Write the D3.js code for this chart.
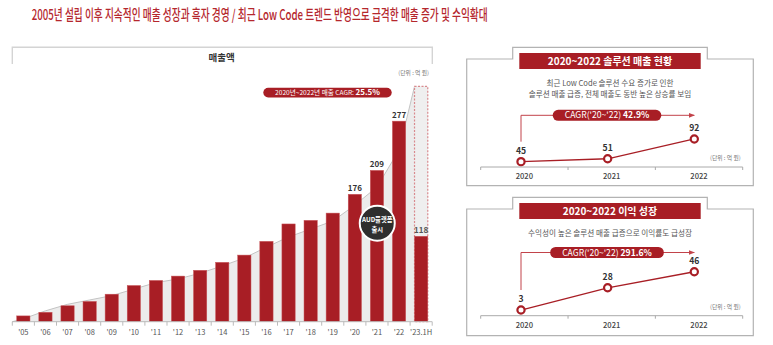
<!DOCTYPE html>
<html><head><meta charset="utf-8">
<script src="https://cdn.jsdelivr.net/npm/d3@7"></script>
<style>
html,body{margin:0;padding:0;background:#fff;}
svg{display:block;font-family:"Noto Sans CJK KR","Noto Sans",sans-serif;}
</style></head>
<body>
<svg id="c" width="773" height="345"></svg>
<script>
// ---------- data ----------
const titleText = "2005년 설립 이후 지속적인 매출 성장과 흑자 경영 / 최근 Low Code 트렌드 반영으로 급격한 매출 증가 및 수익확대";
const categories = ["'05","'06","'07","'08","'09","'10","'11","'12","'13","'14","'15","'16","'17","'18","'19","'20","'21","'22","'23.1H"];
const salesValues = [8,13,22,28,38,50,57,63,71,82,92,111,135,140,150,176,209,277,118];
const trendValues = [4,15,24,30,36,45,54,59,67,77,88,103,117,128,139,161,186,237,325];
const labeledCategories = ["'20","'21","'22","'23.1H"];
const projected2023 = 325;
const years = ["2020","2021","2022"];
const solutionSales = [45,51,92];
const profitValues = [3,28,46];

const RED = "#a81e25";
const svg = d3.select("#c");
svg.append("rect").attr("width",773).attr("height",345).attr("fill","#fff");

// title
svg.append("text").attr("x",259.7).attr("y",20).attr("text-anchor","middle")
  .attr("font-size",14.5).attr("font-weight",500).attr("fill","#b5272d")
  .attr("textLength",456).attr("lengthAdjust","spacingAndGlyphs").text(titleText);

// ---------- left chart ----------
const x = d3.scaleBand().domain(categories).range([12.3,432.2]).paddingInner(0.4).paddingOuter(0.2);
const y = d3.scaleLinear().domain([0,325]).range([321.7,86.4]);
const bw = x.bandwidth();
const gap = x.step()*0.2;

// frame
svg.append("path").attr("d",`M12.3,64V47.3H432.3V64`).attr("fill","none").attr("stroke","#d4d4d4").attr("stroke-width",1.4);
svg.append("text").attr("x",221.7).attr("y",61).attr("text-anchor","middle").attr("font-size",9.5).attr("font-weight",700).attr("fill","#333").text("매출액");
svg.append("text").attr("x",429).attr("y",74.5).attr("text-anchor","end").attr("font-size",5.8).attr("fill","#777").text("(단위 : 억 원)");

// trend area
const last = categories.length-1;
const trendPts = [[12.3,y(0)]];
categories.forEach((c,i)=>{
  if(i<last) trendPts.push([x(c)+bw/2,y(trendValues[i])]);
  else { trendPts.push([x(c),y(trendValues[i])]); trendPts.push([x(c)+bw,y(trendValues[i])]); }
});
svg.append("path").datum(trendPts)
  .attr("d",d3.area().x(d=>d[0]).y0(y(0)).y1(d=>d[1]))
  .attr("fill","#ececec");
svg.append("path").datum(trendPts.slice(0,trendPts.length-1))
  .attr("d",d3.line().x(d=>d[0]).y(d=>d[1]))
  .attr("fill","none").attr("stroke","#bdbdbd").attr("stroke-width",0.9);
// projected dashed box
svg.append("rect").attr("x",x(categories[last])).attr("y",y(projected2023))
  .attr("width",bw).attr("height",y(0)-y(projected2023))
  .attr("fill","#efefef").attr("stroke","#d98a8e").attr("stroke-width",1.2).attr("stroke-dasharray","2,1.5");

// bars
svg.append("g").selectAll("rect").data(categories).join("rect")
  .attr("x",d=>x(d)).attr("y",(d,i)=>y(salesValues[i]))
  .attr("width",bw).attr("height",(d,i)=>y(0)-y(salesValues[i]))
  .attr("fill",RED).attr("stroke","#c9565b").attr("stroke-width",0.5);

// value labels
svg.append("g").selectAll("text").data(categories.filter(c=>labeledCategories.includes(c))).join("text")
  .attr("x",d=>x(d)+bw/2).attr("y",d=>y(salesValues[categories.indexOf(d)])-3)
  .attr("text-anchor","middle").attr("font-size",8).attr("font-weight",700)
  .attr("fill",d=>d==="'23.1H"?"#555":"#333")
  .text(d=>salesValues[categories.indexOf(d)]);

// axis
const ax = svg.append("g");
ax.append("line").attr("x1",12.3).attr("x2",432.2).attr("y1",y(0)).attr("y2",y(0)).attr("stroke","#bbb").attr("stroke-width",1);
ax.selectAll("line.t").data(categories.concat(["end"])).join("line").attr("class","t")
  .attr("x1",(d,i)=> i<categories.length ? x(d)-gap : x(categories[last])+bw+gap)
  .attr("x2",(d,i)=> i<categories.length ? x(d)-gap : x(categories[last])+bw+gap)
  .attr("y1",y(0)).attr("y2",y(0)+4).attr("stroke","#bbb").attr("stroke-width",1);
ax.selectAll("text").data(categories).join("text")
  .attr("x",d=>x(d)+bw/2).attr("y",334.5).attr("text-anchor","middle")
  .attr("font-size",7.5).attr("fill","#555").text(d=>d);

// CAGR pill
const pill = svg.append("g");
pill.append("rect").attr("x",263.3).attr("y",87.7).attr("width",128.4).attr("height",9.8).attr("rx",4.9).attr("fill",RED);
const pt = pill.append("text").attr("x",327.5).attr("y",95.3).attr("text-anchor","middle").attr("fill","#fff").attr("font-size",6.6);
pt.append("tspan").text("2020년~2022년 매출  CAGR: ");
pt.append("tspan").attr("font-weight",700).attr("font-size",8).text("25.5%");

// AUD circle
const cx = x("'21")+bw/2+0.3, cy = y(136);
svg.append("circle").attr("cx",cx).attr("cy",cy).attr("r",17.5).attr("fill","#2e2e2e").attr("stroke","#fff").attr("stroke-width",2);
svg.append("text").attr("x",cx).attr("y",cy-1.5).attr("text-anchor","middle").attr("font-size",6.3).attr("font-weight",700).attr("fill","#fff").text("AUD플랫폼");
svg.append("text").attr("x",cx).attr("y",cy+8.5).attr("text-anchor","middle").attr("font-size",6.3).attr("font-weight",700).attr("fill","#fff").text("출시");

// ---------- right panels ----------
svg.append("defs").append("marker").attr("id","arr").attr("viewBox","0 0 10 10")
  .attr("refX",9).attr("refY",5).attr("markerWidth",6).attr("markerHeight",6).attr("orient","auto")
  .append("path").attr("d","M0,1L10,5L0,9Z").attr("fill","#c2434a");

function panel(top, header, subLines, cagrLabel, cagrVal, values, yDomain, yRange){
  const off = top; // panel vertical origin
  const g = svg.append("g");
  // frame with tab
  g.append("path").attr("d",`M466.7,${off+12}H512.7V${off+0.3}H707.3V${off+12}H753.3V${off+138.7}H466.7Z`)
    .attr("fill","none").attr("stroke","#b3b3b3").attr("stroke-width",1.2);
  g.append("rect").attr("x",519.3).attr("y",off+6).attr("width",181.4).attr("height",16).attr("fill",RED);
  g.append("text").attr("x",610).attr("y",off+17.6).attr("text-anchor","middle").attr("font-size",10).attr("font-weight",700).attr("fill","#fff").text(header);
  subLines.forEach((s,i)=>{
    g.append("text").attr("x",610).attr("y",off+38.5+i*11.3).attr("text-anchor","middle").attr("font-size",7.6).attr("fill","#555").text(s);
  });
  const xp = d3.scalePoint().domain(years).range([521,694.3]);
  const xb = d3.scaleBand().domain(years).range([480.7,742.7]);
  const yl = d3.scaleLinear().domain(yDomain).range(yRange);
  const pillY = subLines.length===2 ? off+68.3 : off+55.5;
  // arrow
  const firstLabelY = yl(values[0])-8;
  g.append("path").attr("d",`M${xp(years[0])},${firstLabelY-12}V${pillY}H${xp(years[2])}`)
    .attr("fill","none").attr("stroke","#c2434a").attr("stroke-width",1).attr("marker-end","url(#arr)");
  // pill
  const tt = g.append("text").attr("x",0).attr("y",pillY+3).attr("font-size",8.6).attr("fill","#fff");
  tt.append("tspan").text(cagrLabel+" ");
  tt.append("tspan").attr("font-weight",700).text(cagrVal);
  const tw = tt.node().getComputedTextLength();
  const pw = tw+24, pcx = 607;
  g.insert("rect","text:last-of-type").attr("x",pcx-pw/2).attr("y",pillY-5.5).attr("width",pw).attr("height",11).attr("rx",5.5).attr("fill",RED);
  tt.attr("x",pcx).attr("text-anchor","middle");
  tt.raise();
  // axis
  const baseY = subLines.length===2 ? off+120 : off+118.7;
  g.append("line").attr("x1",480.7).attr("x2",742.7).attr("y1",baseY).attr("y2",baseY).attr("stroke","#aaa").attr("stroke-width",1);
  g.selectAll("line.t").data([480.7, ...years.slice(1).map(d=>xb(d)), 742.7]).join("line").attr("class","t")
    .attr("x1",d=>d).attr("x2",d=>d).attr("y1",baseY).attr("y2",baseY+3).attr("stroke","#aaa");
  g.selectAll("text.yr").data(years).join("text").attr("class","yr")
    .attr("x",d=>xb(d)+xb.bandwidth()/2).attr("y",baseY+12).attr("text-anchor","middle")
    .attr("font-size",7.6).attr("font-weight",500).attr("fill","#444").text(d=>d);
  g.append("text").attr("x",740.7).attr("y",baseY-7).attr("text-anchor","end").attr("font-size",5.8).attr("fill","#777").text("(단위 : 억 원)");
  // line
  g.append("path").datum(values).attr("d",d3.line().x((d,i)=>xp(years[i])).y(d=>yl(d)))
    .attr("fill","none").attr("stroke",RED).attr("stroke-width",1.3);
  g.selectAll("circle").data(values).join("circle")
    .attr("cx",(d,i)=>xp(years[i])).attr("cy",d=>yl(d)).attr("r",3.6)
    .attr("fill","#fff").attr("stroke",RED).attr("stroke-width",2.2);
  g.selectAll("text.v").data(values).join("text").attr("class","v")
    .attr("x",(d,i)=>xp(years[i])).attr("y",d=>yl(d)-8).attr("text-anchor","middle")
    .attr("font-size",8.6).attr("font-weight",700).attr("fill","#333").text(d=>d);
}

panel(47, "2020~2022 솔루션 매출 현황",
  ["최근 Low Code 솔루션 수요 증가로 인한","솔루션 매출 급증, 전체 매출도 동반 높은 상승률 보임"],
  "CAGR('20~'22)","42.9%", solutionSales, [0,100], [183.4,135.1]);
panel(197, "2020~2022 이익 성장",
  ["수익성이 높은 솔루션 매출 급증으로 이익률도 급성장"],
  "CAGR('20~'22)","291.6%", profitValues, [0,50], [312.7,268.2]);
</script>
</body></html>
